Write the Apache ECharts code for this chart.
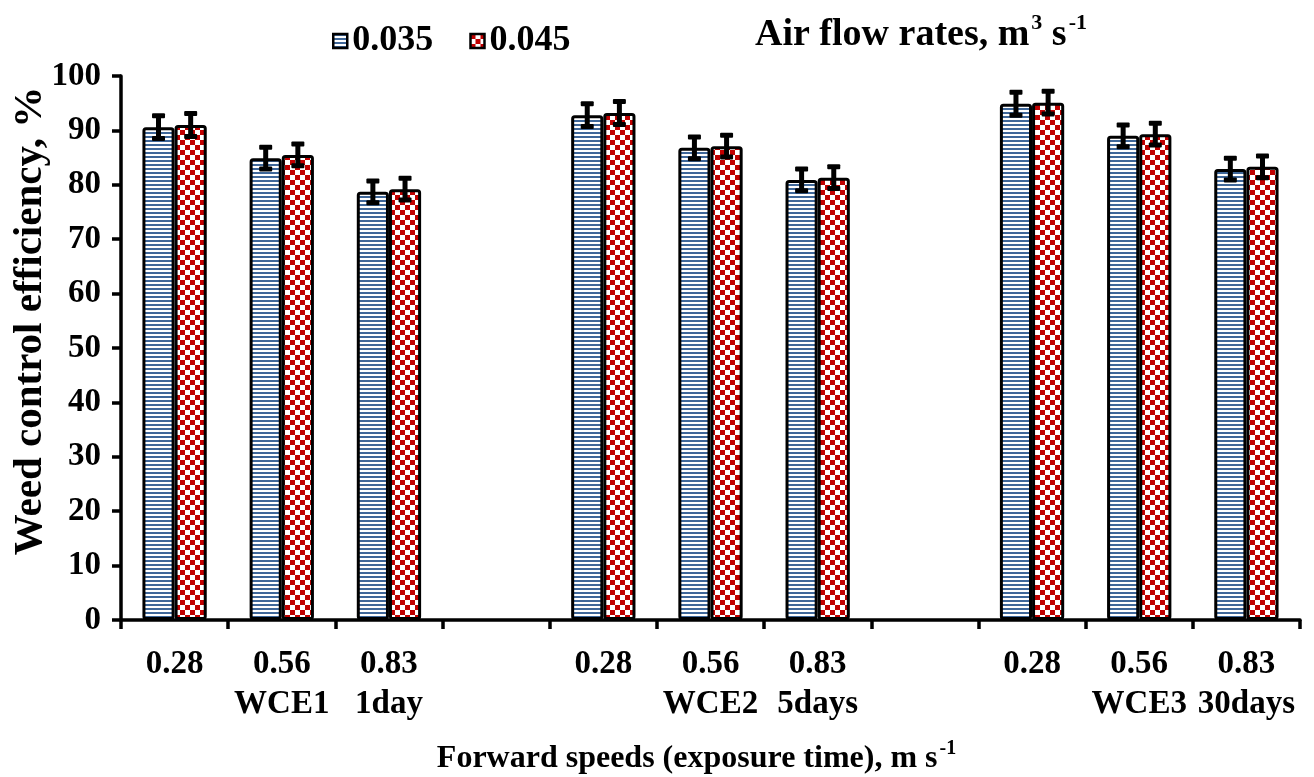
<!DOCTYPE html>
<html>
<head>
<meta charset="utf-8">
<title>Weed control efficiency</title>
<script src="https://cdn.jsdelivr.net/npm/echarts@6/dist/echarts.min.js"></script>
<style>
  html, body { margin: 0; padding: 0; background: #fff; }
  #chart { width: 1314px; height: 777px; }
</style>
</head>
<body>
<div id="chart"></div>
<script>
// Forward speed categories, with the treatment / exposure time on a second line
const categories = ['0.28', '0.56\nWCE1', '0.83\n1day', '', '0.28', '0.56\nWCE2', '0.83\n5days', '', '0.28', '0.56\nWCE3', '0.83\n30days'];
const seriesNames = ['0.035', '0.045'];
// Weed control efficiency (%) for each air flow rate
const wce035 = [90.6, 84.9, 78.7, '-', 92.8, 86.8, 80.9, '-', 94.9, 89.0, 82.9];
const wce045 = [91.0, 85.5, 79.2, '-', 93.2, 87.1, 81.3, '-', 95.1, 89.3, 83.3];
// Error bar half-lengths
const err035 = [2.1, 2.0, 2.0, '-', 2.1, 2.0, 2.0, '-', 2.1, 2.0, 2.0];
const err045 = [2.1, 2.0, 2.0, '-', 2.1, 2.0, 2.0, '-', 2.1, 2.0, 2.0];
const yTicks = { min: 0, max: 100, interval: 10 };

const FONT = 'Liberation Serif';
const BAR_RATIO = 0.3;

// Fill patterns: horizontal blue stripes and a red checkerboard
function stripePattern() {
  const c = document.createElement('canvas');
  c.width = 4; c.height = 4;
  const g = c.getContext('2d');
  g.fillStyle = '#ffffff'; g.fillRect(0, 0, 4, 4);
  g.fillStyle = '#3f6799'; g.fillRect(0, 0, 4, 2);
  return c;
}
function checkerPattern() {
  const s = 5;
  const c = document.createElement('canvas');
  c.width = s * 2; c.height = s * 2;
  const g = c.getContext('2d');
  g.fillStyle = '#ffffff'; g.fillRect(0, 0, s * 2, s * 2);
  g.fillStyle = '#c00000';
  g.fillRect(0, 0, s, s);
  g.fillRect(s, s, s, s);
  return c;
}
const fills = [
  { image: stripePattern(), repeat: 'repeat' },
  { image: checkerPattern(), repeat: 'repeat' }
];

function errorData(values, errs) {
  return values.map((v, i) => (v === '-' ? [i, '-', '-'] : [i, v, errs[i]]));
}

function errorSeries(name, values, errs, side) {
  return {
    type: 'custom',
    name: name + ' err',
    z: 10,
    silent: true,
    data: errorData(values, errs),
    encode: { x: 0, y: 1 },
    renderItem: function (params, api) {
      const v = api.value(1);
      if (v === '-' || isNaN(v)) return null;
      const i = api.value(0);
      const e = api.value(2);
      const band = api.size([1, 0])[0];
      const bw = band * BAR_RATIO;
      const cx = api.coord([i, v])[0] + side * bw / 2;
      const yTop = api.coord([i, v + e])[1];
      const yBot = api.coord([i, v - e])[1];
      const capW = 13, capH = 5, stemW = 5;
      const st = { fill: '#000' };
      return {
        type: 'group',
        children: [
          { type: 'rect', shape: { x: cx - stemW / 2, y: yTop, width: stemW, height: yBot - yTop }, style: st },
          { type: 'rect', shape: { x: cx - capW / 2, y: yTop - capH / 2, width: capW, height: capH, r: 1 }, style: st },
          { type: 'rect', shape: { x: cx - capW / 2, y: yBot - capH / 2, width: capW, height: capH, r: 1 }, style: st }
        ]
      };
    }
  };
}

const chart = echarts.init(document.getElementById('chart'), null, { renderer: 'canvas' });

const barStyle = (k) => ({
  color: fills[k],
  borderColor: '#000',
  borderWidth: 3,
  borderRadius: 2
});

const supRich = (size, supSize) => ({
  b: { fontFamily: FONT, fontWeight: 'bold', fontSize: size, color: '#000', lineHeight: size + 4, verticalAlign: 'bottom' },
  s: { fontFamily: FONT, fontWeight: 'bold', fontSize: supSize, color: '#000', lineHeight: size + 4, verticalAlign: 'top', padding: [0, 0, 0, 2] }
});

const option = {
  animation: false,
  backgroundColor: '#fff',
  textStyle: { fontFamily: FONT },
  title: {
    left: 750,
    top: 7,
    text: '{b|Air flow rates, m}{s|3}{b| s}{s|-1}',
    textStyle: { rich: supRich(38, 22) }
  },
  legend: {
    left: 327,
    top: 18,
    itemWidth: 14,
    itemHeight: 14,
    itemGap: 36,
    icon: 'rect',
    data: seriesNames,
    textStyle: { fontFamily: FONT, fontWeight: 'bold', fontSize: 36, color: '#000' },
    itemStyle: { borderColor: '#000', borderWidth: 2.5 }
  },
  grid: { left: 121, right: 14, top: 76, bottom: 157, outerBoundsMode: 'none' },
  xAxis: {
    type: 'category',
    data: categories,
    boundaryGap: true,
    axisLine: { lineStyle: { color: '#000', width: 3.5 } },
    axisTick: { show: true, interval: 0, length: 9, lineStyle: { color: '#000', width: 3.5 } },
    axisLabel: {
      interval: 0,
      margin: 24,
      verticalAlign: 'top',
      color: '#000',
      fontFamily: FONT,
      fontWeight: 'bold',
      fontSize: 33,
      lineHeight: 40
    },
    name: '{b|Forward speeds (exposure time), m s}{s|-1}',
    nameLocation: 'middle',
    nameGap: 119,
    nameMoveOverlap: false,
    nameTextStyle: { rich: supRich(32, 20), padding: [0, 28, 0, 0] }
  },
  yAxis: {
    type: 'value',
    min: yTicks.min,
    max: yTicks.max,
    interval: yTicks.interval,
    splitLine: { show: false },
    axisLine: { show: true, lineStyle: { color: '#000', width: 3.5 } },
    axisTick: { show: true, length: 9, lineStyle: { color: '#000', width: 3.5 } },
    axisLabel: { margin: 20, color: '#000', fontFamily: FONT, fontWeight: 'bold', fontSize: 33 },
    name: 'Weed control efficiency, %',
    nameLocation: 'middle',
    nameRotate: 90,
    nameGap: 70,
    nameMoveOverlap: false,
    nameTextStyle: { fontFamily: FONT, fontWeight: 'bold', fontSize: 41, color: '#000', padding: [0, 0, 0, 54] }
  },
  series: [
    {
      type: 'bar',
      name: seriesNames[0],
      data: wce035,
      barWidth: (BAR_RATIO * 100) + '%',
      barGap: '0%',
      itemStyle: barStyle(0)
    },
    {
      type: 'bar',
      name: seriesNames[1],
      data: wce045,
      barWidth: (BAR_RATIO * 100) + '%',
      barGap: '0%',
      itemStyle: barStyle(1)
    },
    errorSeries(seriesNames[0], wce035, err035, -1),
    errorSeries(seriesNames[1], wce045, err045, 1)
  ]
};

chart.setOption(option);
</script>
</body>
</html>
